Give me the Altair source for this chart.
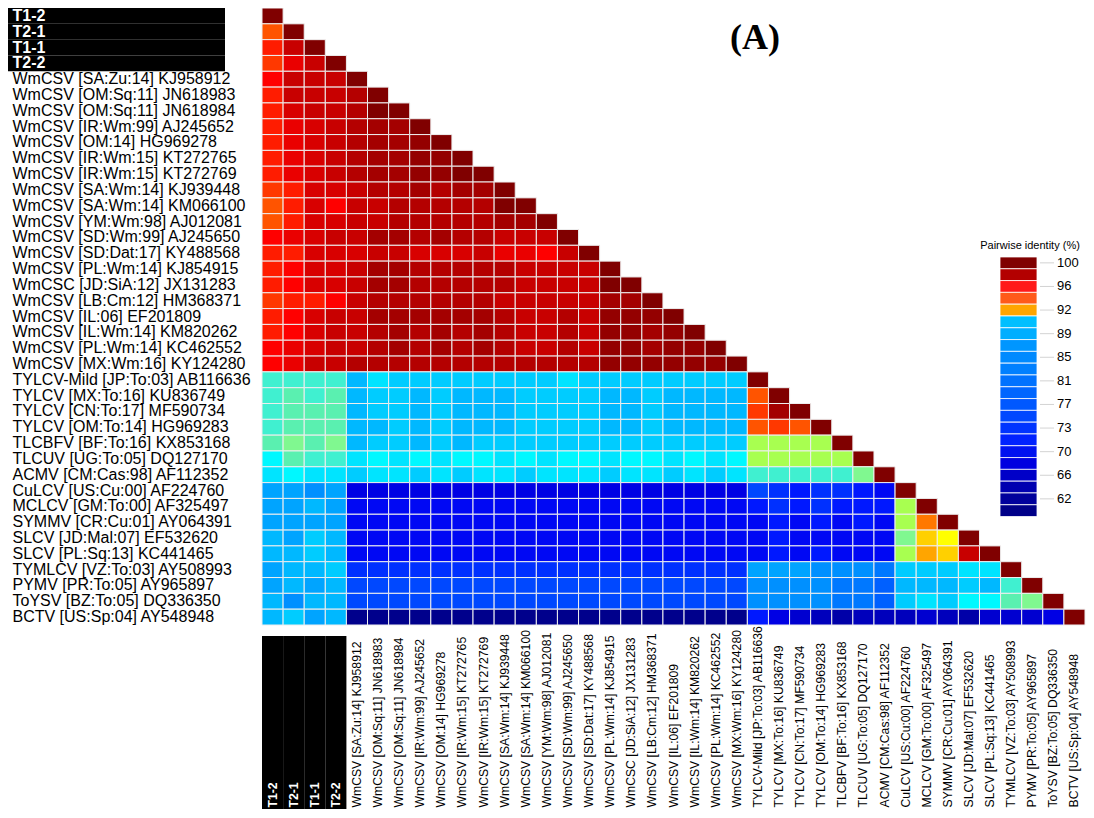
import altair as alt
import pandas as pd

# ---------------- data ----------------
labels = [
    "T1-2", "T2-1", "T1-1", "T2-2",
    "WmCSV [SA:Zu:14] KJ958912", "WmCSV [OM:Sq:11] JN618983", "WmCSV [OM:Sq:11] JN618984",
    "WmCSV [IR:Wm:99] AJ245652", "WmCSV [OM:14] HG969278", "WmCSV [IR:Wm:15] KT272765",
    "WmCSV [IR:Wm:15] KT272769", "WmCSV [SA:Wm:14] KJ939448", "WmCSV [SA:Wm:14] KM066100",
    "WmCSV [YM:Wm:98] AJ012081", "WmCSV [SD:Wm:99] AJ245650", "WmCSV [SD:Dat:17] KY488568",
    "WmCSV [PL:Wm:14] KJ854915", "WmCSC [JD:SiA:12] JX131283", "WmCSV [LB:Cm:12] HM368371",
    "WmCSV [IL:06] EF201809", "WmCSV [IL:Wm:14] KM820262", "WmCSV [PL:Wm:14] KC462552",
    "WmCSV [MX:Wm:16] KY124280",
    "TYLCV-Mild [JP:To:03] AB116636", "TYLCV [MX:To:16] KU836749", "TYLCV [CN:To:17] MF590734",
    "TYLCV [OM:To:14] HG969283", "TLCBFV [BF:To:16] KX853168", "TLCUV [UG:To:05] DQ127170",
    "ACMV [CM:Cas:98] AF112352", "CuLCV [US:Cu:00] AF224760", "MCLCV [GM:To:00] AF325497",
    "SYMMV [CR:Cu:01] AY064391", "SLCV [JD:Mal:07] EF532620", "SLCV [PL:Sq:13] KC441465",
    "TYMLCV [VZ:To:03] AY508993", "PYMV [PR:To:05] AY965897", "ToYSV [BZ:To:05] DQ336350",
    "BCTV [US:Sp:04] AY548948",
]
t_labels = ["T1-2", "T2-1", "T1-1", "T2-2"]

# lower triangle of pairwise identity (%), row i holds columns 0..i
identity_rows = [
    [100],
    [94.1, 100],
    [95.3, 97.7, 100],
    [94.6, 96.5, 97.7, 100],
    [95.9, 97.6, 97.6, 97.9, 100],
    [95.3, 97.5, 97.9, 97.9, 98.3, 100],
    [95.2, 97.3, 97.8, 97.9, 98.2, 99.9, 100],
    [95.2, 96.3, 97.1, 97.5, 98.1, 98.7, 98.9, 100],
    [95.3, 96.4, 97.2, 97.6, 98.1, 98.9, 99.0, 99.4, 100],
    [95.3, 96.4, 97.2, 97.6, 98.1, 98.7, 98.9, 99.4, 99.3, 100],
    [95.4, 96.4, 97.2, 97.5, 98.1, 98.7, 98.9, 99.3, 99.2, 99.9, 100],
    [94.4, 95.3, 96.9, 97.3, 97.8, 98.3, 98.3, 98.6, 98.3, 98.6, 98.9, 100],
    [94.0, 95.2, 97.1, 95.9, 97.5, 97.9, 98.2, 98.3, 98.2, 98.3, 98.3, 99.8, 100],
    [94.3, 95.5, 97.0, 96.8, 97.5, 97.9, 98.1, 98.1, 98.0, 98.1, 98.1, 99.0, 98.7, 100],
    [95.8, 96.4, 97.1, 97.5, 97.9, 98.7, 98.7, 98.4, 98.7, 98.4, 98.4, 97.9, 97.6, 97.9, 100],
    [95.3, 95.4, 97.0, 96.8, 97.1, 97.4, 97.5, 97.1, 96.8, 97.0, 97.4, 96.7, 96.3, 95.9, 97.9, 100],
    [95.3, 95.9, 97.1, 97.2, 97.9, 98.7, 98.7, 98.4, 98.5, 98.4, 98.5, 98.0, 97.7, 97.5, 97.7, 97.5, 100],
    [95.3, 95.9, 97.1, 97.2, 97.9, 98.7, 98.6, 98.4, 98.5, 98.4, 98.5, 98.0, 97.6, 97.5, 97.6, 97.5, 99.9, 100],
    [94.4, 95.2, 95.4, 95.9, 97.9, 98.1, 98.2, 98.1, 98.2, 98.1, 98.2, 97.8, 97.6, 97.6, 97.9, 97.4, 98.9, 98.9, 100],
    [95.4, 95.9, 97.1, 97.5, 97.9, 98.6, 98.7, 98.6, 98.7, 98.6, 98.7, 98.2, 97.9, 97.9, 98.2, 97.6, 99.4, 99.4, 99.3, 100],
    [95.4, 95.9, 97.1, 97.5, 97.9, 98.4, 98.6, 98.5, 98.6, 98.5, 98.6, 98.1, 97.9, 97.9, 98.1, 97.6, 99.4, 99.4, 98.9, 99.4, 100],
    [95.8, 96.3, 97.1, 97.5, 97.9, 98.5, 98.6, 98.5, 98.6, 98.5, 98.6, 98.1, 97.9, 97.9, 98.1, 97.7, 99.4, 99.3, 99.0, 99.5, 99.5, 100],
    [95.8, 96.3, 97.8, 97.9, 98.3, 98.4, 98.4, 98.3, 98.4, 98.3, 98.4, 98.2, 98.1, 98.1, 98.2, 98.1, 99.4, 99.4, 99.3, 99.5, 99.5, 99.5, 100],
    [90.3, 90.3, 90.2, 90.3, 88.4, 89.4, 89.0, 88.9, 89.0, 88.9, 89.0, 88.9, 89.0, 89.0, 89.4, 89.0, 88.9, 88.9, 89.0, 88.9, 88.9, 88.9, 88.9, 100],
    [90.3, 90.7, 90.4, 90.7, 88.0, 88.6, 88.6, 88.4, 88.6, 88.2, 88.4, 88.4, 88.6, 88.6, 88.7, 88.6, 88.4, 88.4, 88.6, 88.4, 88.4, 88.4, 88.4, 94.1, 100],
    [90.4, 90.7, 90.6, 90.8, 88.0, 88.6, 88.6, 88.4, 88.6, 88.3, 88.4, 88.4, 88.6, 88.6, 88.6, 88.6, 88.4, 88.4, 88.6, 88.4, 88.4, 88.4, 88.4, 94.7, 98.9, 100],
    [90.3, 90.7, 90.7, 90.8, 87.8, 88.4, 88.6, 88.4, 88.6, 88.3, 88.4, 88.4, 88.6, 88.6, 88.6, 88.6, 88.4, 88.4, 88.6, 88.4, 88.4, 88.4, 88.4, 93.9, 94.5, 94.1, 100],
    [90.7, 91.0, 90.7, 91.0, 88.0, 88.6, 88.6, 88.4, 88.6, 88.4, 88.6, 88.6, 88.6, 88.6, 88.6, 88.6, 88.6, 88.6, 88.6, 88.6, 88.6, 88.6, 88.6, 91.5, 91.4, 91.5, 91.6, 100],
    [89.9, 90.8, 90.4, 90.4, 89.5, 89.9, 89.6, 89.9, 89.6, 89.9, 89.9, 89.6, 89.9, 89.6, 89.9, 89.9, 89.6, 89.9, 89.9, 89.6, 89.9, 89.6, 89.9, 91.5, 91.4, 91.5, 91.5, 91.6, 100],
    [89.5, 89.9, 89.5, 89.6, 89.2, 89.4, 89.4, 89.2, 89.4, 89.2, 89.4, 89.4, 89.2, 89.4, 89.4, 89.4, 89.2, 89.4, 89.4, 89.2, 89.4, 89.2, 89.4, 90.3, 90.3, 90.3, 90.3, 90.3, 91.1, 100],
    [86.8, 86.8, 85.0, 86.8,
     71.2, 70.8, 71.0, 71.3, 70.9, 71.1, 71.0, 70.8, 71.2, 71.0, 70.9, 71.3, 71.0, 70.8, 71.1, 70.7, 70.9, 71.0, 70.8,
     78.5, 77.2, 75.4, 77.0, 76.4, 75.5, 73.4, 100],
    [86.8, 86.2, 87.6, 86.2,
     72.5, 72.2, 72.6, 72.4, 72.8, 72.3, 72.5, 72.1, 72.6, 72.4, 72.3, 72.7, 72.5, 72.2, 72.4, 72.6, 72.3, 72.5, 72.4,
     75.6, 76.2, 75.4, 76.0, 75.2, 75.8, 74.6, 91.5, 100],
    [86.2, 86.2, 86.8, 86.2,
     72.1, 72.4, 72.0, 72.3, 72.2, 72.5, 72.1, 72.3, 72.0, 72.4, 72.2, 72.1, 72.3, 72.0, 72.2, 72.4, 72.1, 72.3, 72.2,
     73.8, 74.2, 73.5, 74.1, 73.6, 74.0, 73.2, 91.5, 93.5, 100],
    [87.6, 86.8, 88.9, 87.6,
     72.3, 72.0, 72.4, 72.2, 72.5, 72.1, 72.3, 72.0, 72.4, 72.2, 72.3, 72.1, 72.4, 72.2, 72.0, 72.3, 72.1, 72.2, 72.4,
     73.6, 74.0, 73.4, 73.9, 73.5, 73.8, 73.0, 91.1, 92.3, 91.9, 100],
    [88.0, 88.0, 88.9, 88.0,
     72.2, 72.4, 72.1, 72.3, 72.0, 72.4, 72.2, 72.1, 72.3, 72.5, 72.2, 72.0, 72.3, 72.1, 72.4, 72.2, 72.3, 72.1, 72.2,
     73.7, 74.1, 73.5, 74.0, 73.6, 73.9, 73.1, 91.5, 92.9, 92.3, 97.9, 100],
    [86.8, 88.3, 87.6, 88.9,
     77.4, 77.1, 77.6, 77.3, 77.8, 77.2, 77.5, 77.0, 77.4, 77.7, 77.3, 77.5, 77.2, 77.6, 77.4, 77.1, 77.5, 77.3, 77.6,
     86.3, 86.2, 86.4, 85.8, 85.2, 84.1, 83.0, 89.0, 89.0, 88.8, 89.4, 89.6, 100],
    [86.8, 88.3, 86.8, 87.6,
     78.5, 78.2, 78.7, 78.4, 78.9, 78.3, 78.6, 78.1, 78.5, 78.8, 78.4, 78.6, 78.3, 78.7, 78.5, 78.2, 78.6, 78.4, 78.7,
     85.0, 84.4, 85.0, 84.3, 82.6, 83.6, 81.2, 88.4, 88.4, 87.6, 88.8, 88.4, 90.3, 100],
    [87.6, 85.0, 87.6, 88.0,
     78.6, 78.3, 78.8, 78.5, 78.9, 78.4, 78.7, 78.2, 78.6, 78.9, 78.5, 78.7, 78.4, 78.8, 78.6, 78.3, 78.7, 78.5, 78.8,
     85.0, 84.4, 85.0, 84.3, 83.6, 82.6, 81.2, 88.8, 89.4, 88.8, 89.8, 89.9, 90.7, 91.0, 100],
    [87.6, 88.9, 86.8, 88.0,
     60.5, 60.8, 60.3, 60.6, 60.9, 60.4, 60.7, 60.2, 60.6, 60.8, 60.5, 60.3, 60.7, 60.4, 60.6, 60.9, 60.5, 60.3, 60.6,
     75.5, 71.0, 69.0, 67.0, 65.0, 67.0, 66.5, 67.0, 68.5, 66.5, 64.5, 68.5, 69.5, 69.5, 71.5, 100],
]

# colour scale of the cells (thresholds in %, colours low -> high)
thresholds = [60, 62, 64, 66, 68, 70, 72, 74, 76, 78, 80, 82, 84, 86,
              87.5, 88.5, 89.3, 89.7, 90.1, 90.5, 90.9, 91.3, 91.7, 92.1,
              92.6, 93.2, 93.8, 94.4, 95.0, 95.6, 96.2, 96.8, 97.4, 98.0, 98.6, 99.2, 99.8]
threshold_colors = ["#000080", "#00008c", "#000098", "#0000a8", "#0000bc", "#0000d0", "#0000e4",
                    "#0008f4", "#0018ff", "#0030ff", "#0048ff", "#0060ff", "#0078ff", "#0090ff",
                    "#00a4ff", "#00b8ff", "#00ccff", "#00e4ff", "#00f8ff", "#40f0d0", "#5af0b0",
                    "#80f890", "#a8ff50", "#ffff00", "#ffd000", "#ffa500", "#ff7800", "#ff5400",
                    "#ff3800", "#ff1c00", "#ff0000", "#ea0000", "#d80000", "#c80000", "#b40000",
                    "#a40000", "#940000", "#800000"]

# legend (top to bottom)
legend_colors = ["#800000", "#b30000", "#ff1a1a", "#ff5a1a", "#ffa500", "#00bfff", "#00aeff",
                 "#0096ff", "#008aff", "#0080ff", "#0072ff", "#0066ff", "#0058ff", "#0048ff",
                 "#0034ff", "#0022ff", "#0012f0", "#0000e0", "#0000c8", "#0000b0", "#00009c", "#000088"]
legend_tick_labels = ["100", "96", "92", "89", "85", "81", "77", "73", "70", "66", "62"]
legend_title = "Pairwise identity (%)"
panel_tag = "(A)"

for i, r in enumerate(identity_rows):
    if len(r) != i + 1:
        raise ValueError(f"row {i} has {len(r)} values")

# ---------------- tables ----------------
cells = pd.DataFrame(
    [{"row": labels[i], "col": labels[j], "value": v}
     for i, r in enumerate(identity_rows) for j, v in enumerate(r)]
)
legend_df = pd.DataFrame({"k0": list(range(len(legend_colors))),
                          "k1": list(range(1, len(legend_colors) + 1)),
                          "color": legend_colors})
legend_lab_df = pd.DataFrame({"label": legend_tick_labels,
                              "pos": [2 * i + 0.5 for i in range(len(legend_tick_labels))]})

W, H = 823, 617
BOTTOM = 184
FONT = "Liberation Sans, Arial, Helvetica, sans-serif"

is_t = "indexof(['T1-2','T2-1','T1-1','T2-2'], datum.value) >= 0"
lab_color = {"condition": {"test": is_t, "value": "white"}, "value": "black"}
lab_weight = {"condition": {"test": is_t, "value": "bold"}, "value": "normal"}

x_scale = alt.Scale(domain=labels, paddingInner=0, paddingOuter=0)
y_scale = alt.Scale(domain=labels, paddingInner=0, paddingOuter=0)

heat = alt.Chart(cells).mark_rect(stroke="#eeeeee", strokeWidth=1).encode(
    x=alt.X("col:N", scale=x_scale, sort=labels,
            axis=alt.Axis(orient="bottom", title=None, labelAngle=-90, labelAlign="left",
                          labelBaseline="middle", labelPadding=BOTTOM - 2, ticks=False, tickSize=0,
                          domain=False, labelFont=FONT, labelFontSize=12.2, labelLimit=400,
                          labelOverlap=False, labelColor=lab_color, labelFontWeight=lab_weight,
                          zindex=2)),
    y=alt.Y("row:N", scale=y_scale, sort=labels,
            axis=alt.Axis(orient="left", title=None, labelAlign="left", labelBaseline="middle",
                          labelPadding=250, ticks=False, tickSize=0, domain=False,
                          labelFont=FONT, labelFontSize=16, labelLimit=400, labelOverlap=False,
                          labelColor=lab_color, labelFontWeight=lab_weight, zindex=2)),
    color=alt.Color("value:Q", scale=alt.Scale(type="threshold", domain=thresholds,
                                               range=threshold_colors), legend=None),
)

row_box = alt.Chart(pd.DataFrame({"row": t_labels})).mark_rect(color="black").encode(
    y=alt.Y("row:N", scale=y_scale, sort=labels, axis=None),
    x=alt.value(-254), x2=alt.value(-37),
)
col_box = alt.Chart(pd.DataFrame({"col": t_labels})).mark_rect(color="black").encode(
    x=alt.X("col:N", scale=x_scale, sort=labels, axis=None),
    y=alt.value(H + 11), y2=alt.value(H + BOTTOM),
)

leg_y = alt.Scale(domain=[-21.1, 31.19], reverse=True, nice=False, zero=False)
leg_rect = alt.Chart(legend_df).mark_rect(stroke="white", strokeWidth=0.8).encode(
    y=alt.Y("k0:Q", scale=leg_y, axis=None), y2="k1:Q",
    x=alt.value(738), x2=alt.value(775),
    color=alt.Color("color:N", scale=None),
)
leg_tick = alt.Chart(legend_lab_df).mark_rule(color="#c8c8c8", strokeWidth=0.8).encode(
    y=alt.Y("pos:Q", scale=leg_y, axis=None),
    x=alt.value(778), x2=alt.value(792),
)
leg_text = alt.Chart(legend_lab_df).mark_text(
    align="left", baseline="middle", font=FONT, fontSize=13, color="black").encode(
    y=alt.Y("pos:Q", scale=leg_y, axis=None),
    x=alt.value(795), text="label:N",
)
leg_title = alt.Chart(pd.DataFrame({"t": [legend_title]})).mark_text(
    align="center", baseline="middle", font=FONT, fontSize=11, color="black").encode(
    x=alt.value(768), y=alt.value(238), text="t:N",
)
tag = alt.Chart(pd.DataFrame({"t": [panel_tag]})).mark_text(
    align="center", baseline="middle", font="Liberation Serif, Times New Roman, serif",
    fontSize=36, fontWeight="bold", color="black").encode(
    x=alt.value(493), y=alt.value(30), text="t:N",
)

chart = alt.layer(heat, row_box, col_box, leg_rect, leg_tick, leg_text, leg_title, tag).resolve_scale(
    x="independent", y="independent", color="independent"
).properties(
    width=W, height=H,
    background="white",
    autosize=alt.AutoSizeParams(type="none"),
    padding={"left": 254, "top": 0, "right": 1, "bottom": BOTTOM + 1},
).configure_view(strokeWidth=0, stroke="transparent")

chart.save("out.html", embed_options={"renderer": "svg", "actions": False})
